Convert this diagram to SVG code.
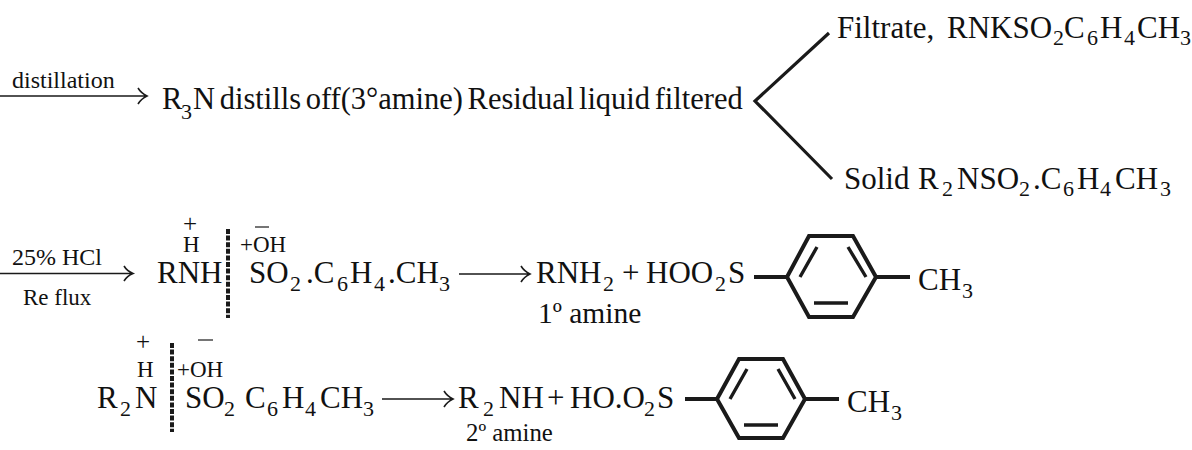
<svg xmlns="http://www.w3.org/2000/svg" width="1192" height="450" viewBox="0 0 1192 450">
<style>
text{font-family:"Liberation Serif","Times New Roman",serif;fill:#111;white-space:pre}
.a{font-size:31px}
.u{font-size:22px}
.b{font-size:24px}
.c{font-size:23px}
.p{font-size:25px}
.s{stroke:#1a1a1a;fill:none}
.t{stroke-width:3.2;stroke-linejoin:miter}
.d{stroke-width:4;stroke-dasharray:5 1.6}
.l{stroke-width:1.6}
.m{stroke-width:1.2}
.r{stroke-width:4;stroke-linejoin:miter}
.i{stroke-width:3.4}
</style>
<rect width="1192" height="450" fill="#fff"/>
<g id="connectors">
<path class="s l" d="M0 96H146M138 88Q141 93 147 96Q141 99 138 104"/>
<path class="s l" d="M0 273.500H132M124 266Q127 271 133 273.500Q127 276 124 281"/>
<path class="s l" d="M459 274H529M521 266Q524 271 530 274Q524 277 521 282"/>
<path class="s l" d="M382 399H452M444 391Q447 396 453 399Q447 402 444 407"/>
<path class="s t" d="M829 33L755 101L832 179"/>
<path class="s d" d="M228 229V318"/>
<path class="s d" d="M172 343V432"/>
</g>
<g id="n1"><text class="b" x="12" y="88">distillation</text></g>
<g id="n2"><text style="font-size:30.500px;word-spacing:-3px" x="162" y="109">R</text><text class="u" x="181" y="119">3</text><text style="font-size:30.500px;word-spacing:-3px" x="193" y="109">N distills off(3°amine) Residual liquid filtered</text></g>
<g id="n3"><text class="a" x="837" y="38">Filtrate,</text><text class="a" x="947" y="38">RNKSO</text><text class="u" x="1053" y="45">2</text><text class="a" x="1064" y="38">C</text><text class="u" x="1087" y="45">6</text><text class="a" x="1100" y="38">H</text><text class="u" x="1124" y="45">4</text><text class="a" x="1137" y="38">CH</text><text class="u" x="1180" y="45">3</text></g>
<g id="n4"><text class="a" x="844" y="189">Solid</text><text class="a" x="918" y="189">R</text><text class="u" x="942" y="196">2</text><text class="a" x="957" y="189">NSO</text><text class="u" x="1019" y="196">2</text><text class="a" x="1033" y="189">.C</text><text class="u" x="1063" y="196">6</text><text class="a" x="1077" y="189">H</text><text class="u" x="1100" y="196">4</text><text class="a" x="1115" y="189">CH</text><text class="u" x="1160" y="196">3</text></g>
<g id="n5"><text class="b" x="12" y="265">25% HCl</text><text class="c" x="23" y="305">Re flux</text></g>
<g id="n6"><text class="p" x="183" y="232">+</text><text class="c" x="183" y="252">H</text><text class="a" x="157" y="283">RNH</text><text class="c" x="240" y="252">+OH</text><path class="s m" d="M255 227H269"/></g>
<g id="n7"><text class="a" x="249" y="283">SO</text><text class="u" x="290" y="291">2</text><text class="a" x="306" y="283">.C</text><text class="u" x="337" y="291">6</text><text class="a" x="350" y="283">H</text><text class="u" x="374" y="291">4</text><text class="a" x="388" y="283">.CH</text><text class="u" x="439" y="291">3</text></g>
<g id="n8"><text class="a" x="536" y="283">RNH</text><text class="u" x="603" y="291">2</text><text class="a" x="622" y="283">+</text><text class="a" x="646" y="283">HOO</text><text class="u" x="715" y="291">2</text><text class="a" x="728" y="283">S</text><text x="538" y="323" style="font-size:29.500px">1º amine</text></g>
<g id="n9"><path class="s r" d="M754 277H787M876 277H910M787 277L809 236H853L876 277L853 317H809Z"/><path class="s i" d="M800 277L817 247M848 247L866 277M814 303H848"/><text class="a" x="918" y="290">CH</text><text class="u" x="962" y="298">3</text></g>
<g id="n10"><text class="p" x="136" y="350">+</text><text class="c" x="137" y="377">H</text><text class="a" x="97" y="408">R</text><text class="u" x="120" y="416">2</text><text class="a" x="135" y="408">N</text><text class="c" x="177" y="377">+OH</text><path class="s m" d="M198 340H213"/></g>
<g id="n11"><text class="a" x="185" y="408">SO</text><text class="u" x="224" y="416">2</text><text class="a" x="245" y="408">C</text><text class="u" x="267" y="416">6</text><text class="a" x="282" y="408">H</text><text class="u" x="305" y="416">4</text><text class="a" x="320" y="408">CH</text><text class="u" x="363" y="416">3</text></g>
<g id="n12"><text class="a" x="458" y="408">R</text><text class="u" x="483" y="416">2</text><text class="a" x="499" y="408">NH</text><text class="a" x="547" y="408">+</text><text class="a" x="570" y="408">HO.O</text><text class="u" x="644" y="416">2</text><text class="a" x="657" y="408">S</text><text x="466" y="441" style="font-size:24.800px">2º amine</text></g>
<g id="n13"><path class="s r" d="M685 399H717M805 399H839M717 399L739 359H783L805 399L783 438H739Z"/><path class="s i" d="M730 399L747 369M778 369L795 399M744 425H778"/><text class="a" x="847" y="412">CH</text><text class="u" x="891" y="420">3</text></g>
</svg>
